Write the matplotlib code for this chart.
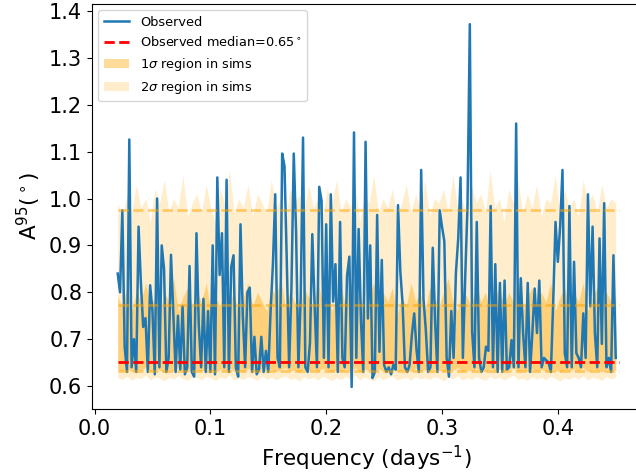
import numpy as np
import matplotlib
import matplotlib.pyplot as plt

matplotlib.use("agg")

# observed A95 spectrum (step 0.002 in frequency)
freq = np.arange(216) * 0.002 + 0.02
observed = [
    0.84, 0.80, 0.975, 0.684, 0.63, 1.126, 0.64, 0.70, 0.63, 0.94,
    0.82, 0.726, 0.745, 0.63, 0.815, 0.76, 0.625, 1.0, 0.64, 0.90,
    0.85, 0.63, 0.66, 0.88, 0.755, 0.63, 0.75, 0.635, 0.77, 0.625,
    0.64, 0.856, 0.63, 0.62, 0.926, 0.73, 0.64, 0.786, 0.63, 0.76,
    0.63, 0.90, 0.625, 1.045, 0.837, 0.926, 0.64, 1.04, 0.63, 0.854,
    0.879, 0.64, 0.62, 0.945, 0.751, 0.64, 0.80, 0.81, 0.63, 0.705,
    0.625, 0.635, 0.705, 0.63, 0.675, 0.63, 0.76, 0.86, 1.009, 0.66,
    0.64, 1.096, 1.069, 0.864, 0.64, 0.81, 1.096, 0.929, 0.64, 0.79,
    1.13, 0.64, 0.63, 0.692, 0.924, 0.773, 0.64, 1.025, 0.995, 0.66,
    0.945, 0.64, 1.009, 0.78, 0.86, 0.63, 0.95, 0.66, 0.64, 0.835,
    0.876, 0.598, 1.141, 0.66, 0.935, 0.741, 0.63, 1.121, 0.744, 0.90,
    0.617, 0.63, 0.965, 0.673, 0.869, 0.645, 0.63, 0.64, 0.625, 0.645,
    0.635, 0.986, 0.845, 0.774, 0.64, 0.63, 0.645, 0.71, 0.755, 0.677,
    0.63, 1.061, 0.786, 0.72, 0.63, 0.64, 0.895, 0.741, 0.63, 0.975,
    0.94, 0.909, 0.66, 0.62, 0.76, 0.66, 0.842, 0.915, 1.045, 0.66,
    0.83, 0.984, 1.372, 0.716, 0.64, 0.95, 0.66, 0.63, 0.64, 0.684,
    0.675, 0.984, 0.64, 0.86, 0.63, 0.82, 0.63, 0.825, 0.635, 0.64,
    0.698, 0.64, 1.16, 0.64, 0.83, 0.713, 0.64, 0.82, 0.63, 0.713,
    0.808, 0.713, 0.825, 0.64, 0.66, 0.655, 0.65, 0.63, 0.78, 0.95,
    0.865, 0.94, 1.061, 0.67, 0.64, 0.984, 0.64, 0.865, 0.67, 0.66,
    0.64, 0.755, 0.66, 1.009, 0.77, 0.94, 0.713, 0.64, 0.915, 0.69,
    0.99, 0.64, 0.66, 0.63, 0.879, 0.66,
]
obs_median = 0.652

# simulation envelopes (coarser grid)
freq_sims = np.linspace(0.02, 0.45, 108)
sig2_hi = [
    0.99, 0.96, 1.01, 0.97, 1.03, 0.98, 1.00, 0.95, 1.02, 0.99,
    1.04, 0.97, 1.00, 0.98, 1.05, 0.96, 0.99, 1.01, 0.97, 1.03,
    0.98, 0.95, 1.02, 0.99, 1.06, 0.97, 1.00, 0.98, 1.03, 0.96,
    1.01, 0.99, 0.97, 1.04, 0.98, 1.00, 0.95, 1.02, 0.99, 1.01,
    0.97, 1.03, 0.98, 1.00, 0.96, 1.02, 0.99, 1.04, 0.97, 1.00,
    0.98, 1.03, 0.95, 1.01, 0.99, 1.05, 0.97, 1.00, 0.98, 1.02,
    0.96, 0.99, 1.03, 0.97, 1.01, 0.98, 1.04, 0.96, 1.00, 0.99,
    1.02, 0.97, 1.05, 0.98, 1.00, 0.96, 1.03, 0.99, 1.01, 0.97,
    1.06, 0.98, 1.00, 0.95, 1.02, 0.99, 1.04, 0.97, 1.01, 0.98,
    1.03, 0.96, 1.00, 0.99, 1.05, 0.97, 1.02, 0.98, 1.00, 0.96,
    1.04, 0.99, 1.01, 0.97, 1.03, 0.98, 1.00, 0.99,
]
sig1_hi = [
    0.79, 0.77, 0.81, 0.76, 0.80, 0.78, 0.82, 0.77, 0.79, 0.75,
    0.80, 0.78, 0.83, 0.76, 0.79, 0.81, 0.77, 0.80, 0.78, 0.82,
    0.76, 0.79, 0.77, 0.81, 0.78, 0.80, 0.75, 0.79, 0.82, 0.77,
    0.80, 0.78, 0.76, 0.81, 0.79, 0.83, 0.77, 0.80, 0.78, 0.76,
    0.81, 0.79, 0.77, 0.82, 0.78, 0.80, 0.76, 0.79, 0.81, 0.77,
    0.83, 0.78, 0.80, 0.76, 0.79, 0.82, 0.77, 0.80, 0.78, 0.81,
    0.75, 0.79, 0.77, 0.82, 0.78, 0.80, 0.76, 0.81, 0.79, 0.77,
    0.80, 0.83, 0.78, 0.76, 0.81, 0.79, 0.77, 0.82, 0.78, 0.80,
    0.76, 0.79, 0.81, 0.77, 0.80, 0.78, 0.83, 0.76, 0.79, 0.81,
    0.77, 0.80, 0.78, 0.82, 0.76, 0.79, 0.81, 0.77, 0.80, 0.78,
    0.82, 0.76, 0.79, 0.81, 0.77, 0.80, 0.78, 0.79,
]
sig1_lo = [
    0.635, 0.632, 0.638, 0.630, 0.636, 0.633, 0.640, 0.631, 0.637, 0.634,
    0.629, 0.636, 0.632, 0.639, 0.633, 0.630, 0.637, 0.635, 0.631, 0.638,
    0.634, 0.630, 0.636, 0.633, 0.639, 0.631, 0.635, 0.632, 0.637, 0.634,
    0.630, 0.638, 0.633, 0.636, 0.631, 0.635, 0.639, 0.632, 0.634, 0.630,
    0.637, 0.633, 0.636, 0.631, 0.638, 0.634, 0.630, 0.635, 0.632, 0.637,
    0.633, 0.639, 0.631, 0.636, 0.634, 0.630, 0.637, 0.632, 0.635, 0.638,
    0.631, 0.634, 0.636, 0.630, 0.638, 0.633, 0.635, 0.632, 0.637, 0.634,
    0.630, 0.636, 0.633, 0.639, 0.631, 0.635, 0.632, 0.637, 0.634, 0.630,
    0.638, 0.633, 0.636, 0.631, 0.635, 0.639, 0.632, 0.634, 0.630, 0.637,
    0.633, 0.636, 0.631, 0.638, 0.634, 0.630, 0.635, 0.632, 0.637, 0.633,
    0.639, 0.631, 0.636, 0.634, 0.630, 0.637, 0.633, 0.635,
]
sig2_lo = [
    0.618, 0.614, 0.621, 0.612, 0.619, 0.616, 0.623, 0.613, 0.620, 0.617,
    0.611, 0.619, 0.615, 0.622, 0.616, 0.612, 0.620, 0.618, 0.613, 0.621,
    0.617, 0.612, 0.619, 0.615, 0.624, 0.613, 0.618, 0.614, 0.620, 0.617,
    0.612, 0.621, 0.615, 0.619, 0.613, 0.618, 0.622, 0.614, 0.617, 0.611,
    0.620, 0.615, 0.619, 0.613, 0.621, 0.617, 0.612, 0.618, 0.614, 0.620,
    0.615, 0.623, 0.613, 0.619, 0.616, 0.611, 0.620, 0.614, 0.618, 0.621,
    0.613, 0.616, 0.619, 0.612, 0.621, 0.615, 0.618, 0.614, 0.620, 0.617,
    0.611, 0.619, 0.615, 0.622, 0.613, 0.618, 0.614, 0.620, 0.616, 0.612,
    0.621, 0.615, 0.619, 0.613, 0.618, 0.623, 0.614, 0.617, 0.612, 0.620,
    0.615, 0.619, 0.613, 0.621, 0.616, 0.611, 0.618, 0.614, 0.620, 0.615,
    0.622, 0.613, 0.619, 0.616, 0.612, 0.620, 0.615, 0.618,
]
# typical envelope levels (dashed guides)
sim_levels = [0.975, 0.773, 0.632]

fig = plt.figure(figsize=(6.36, 4.74), dpi=100)
ax = fig.add_axes([92 / 636, 65 / 474, 549 / 636, 405 / 474])

ax.fill_between(freq_sims, sig2_lo, sig2_hi, color="orange", alpha=0.2,
                linewidth=0, label=r"2$\sigma$ region in sims")
ax.fill_between(freq_sims, sig1_lo, sig1_hi, color="orange", alpha=0.4,
                linewidth=0, label=r"1$\sigma$ region in sims")
ax.plot(freq, observed, color="tab:blue", lw=1.8, label="Observed")
ax.plot([freq[0], 0.453], [obs_median, obs_median], "r--", lw=2,
        label=r"Observed median=0.65$^\circ$")
for lvl in sim_levels:
    ax.plot([freq[0], 0.453], [lvl, lvl], "--", color="orange", lw=2, alpha=0.5)

ax.set_xlim(-0.0022, 0.4718)
ax.set_ylim(0.551, 1.415)
ax.set_xticks([0.0, 0.1, 0.2, 0.3, 0.4])
ax.set_yticks(np.arange(0.6, 1.41, 0.1))
ax.tick_params(labelsize=15)
ax.set_xlabel(r"Frequency (days$^{-1}$)", fontsize=15.5)
ax.set_ylabel(r"A$^{95}$($^\circ$)", fontsize=15.5)

handles, labels = ax.get_legend_handles_labels()
order = [2, 3, 1, 0]
ax.legend([handles[i] for i in order], [labels[i] for i in order],
          loc="upper left", fontsize=9.3)

fig.savefig("out.png", dpi=100)
